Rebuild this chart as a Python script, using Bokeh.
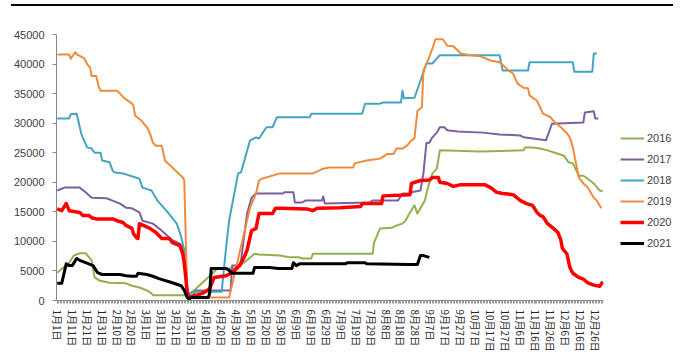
from bokeh.plotting import figure
from bokeh.models import FixedTicker, Legend, LegendItem, Div
from bokeh.layouts import column
from bokeh.embed import file_html
from bokeh.resources import INLINE

# Category axis: one slot per calendar day (leap year, 366 days); labels every 10 days
tick_days = list(range(0, 366, 10))
tick_labels = [
    "1月1日", "1月11日", "1月21日", "1月31日", "2月10日", "2月20日", "3月1日",
    "3月11日", "3月21日", "3月31日", "4月10日", "4月20日", "4月30日", "5月10日",
    "5月20日", "5月30日", "6月9日", "6月19日", "6月29日", "7月9日", "7月19日",
    "7月29日", "8月8日", "8月18日", "8月28日", "9月7日", "9月17日", "9月27日",
    "10月7日", "10月17日", "10月27日", "11月6日", "11月16日", "11月26日",
    "12月6日", "12月16日", "12月26日",
]
y_ticks = [0, 5000, 10000, 15000, 20000, 25000, 30000, 35000, 40000, 45000]

days_2016 = [0, 8, 11, 15, 19, 23, 25, 28, 35, 46, 50, 55, 60, 63, 64, 88, 104, 107, 117,
             122, 127, 132, 135, 149, 155, 162, 164, 170, 171, 211, 212, 216, 224, 227,
             231, 233, 236, 239, 241, 243, 246, 248, 251, 254, 256, 283, 312, 313, 318,
             323, 328, 334, 339, 342, 345, 349, 352, 355, 359, 363, 365]
vals_2016 = [4700, 6400, 7600, 8000, 8000, 6800, 3900, 3400, 3000, 2900, 2500, 2200, 1700,
             1200, 900, 900, 4600, 5400, 5400, 5900, 6800, 7900, 7800, 7600, 7300, 7300,
             7100, 7100, 7900, 7900, 9800, 12200, 12300, 12700, 13000, 13500, 14900,
             16100, 14700, 15600, 16900, 19100, 21500, 22300, 25400, 25200, 25400, 25900,
             25900, 25700, 25400, 24900, 24500, 23400, 23200, 21100, 21100, 20600, 19800,
             18600, 18500]

days_2017 = [0, 5, 15, 19, 23, 33, 37, 42, 46, 50, 55, 57, 64, 70, 77, 82, 84, 86, 87, 89,
             93, 116, 117, 122, 123, 127, 130, 133, 151, 152, 158, 159, 164, 166, 177,
             178, 179, 209, 211, 228, 231, 236, 237, 243, 245, 247, 249, 251, 254, 256,
             259, 261, 268, 285, 296, 310, 312, 327, 331, 352, 353, 359, 360, 362]
vals_2017 = [18600, 19100, 19100, 18300, 17400, 17300, 16900, 16400, 15700, 15600, 14900,
             13500, 13000, 11800, 10200, 9600, 9000, 6800, 2200, 300, 1700, 1700, 5900,
             5900, 6800, 14700, 17400, 18100, 18100, 18300, 18300, 16600, 16600, 16900,
             16900, 17600, 16400, 16600, 16900, 16900, 18100, 18100, 18300, 18600, 21500,
             26600, 26700, 27600, 28400, 29300, 29300, 28800, 28600, 28400, 28100, 27900,
             27600, 27100, 29900, 30100, 31800, 32000, 30800, 30800]

days_2018 = [0, 8, 9, 13, 16, 17, 20, 23, 25, 29, 30, 35, 37, 38, 44, 55, 57, 63, 67, 73,
             80, 83, 85, 87, 88, 90, 110, 113, 115, 121, 123, 129, 133, 135, 140, 144,
             147, 169, 170, 204, 206, 216, 218, 230, 231, 232, 239, 245, 247, 251, 256,
             296, 298, 315, 316, 345, 346, 358, 359, 361]
vals_2018 = [30800, 30800, 31500, 31600, 28300, 27600, 25900, 25700, 25000, 25000, 23700,
             23400, 22000, 21700, 21500, 20600, 19100, 18600, 16900, 15200, 13000, 10700,
             8500, 1200, 300, 1500, 1500, 9000, 13500, 21500, 21700, 27100, 27600, 27400,
             29300, 29300, 31000, 31000, 31600, 31600, 33300, 33300, 33500, 33500, 35500,
             34200, 34300, 38600, 40100, 40100, 41500, 41500, 38900, 38900, 40300, 40300,
             38700, 38700, 41800, 41800]

days_2019 = [0, 8, 9, 12, 14, 18, 20, 22, 23, 26, 28, 29, 40, 42, 45, 50, 51, 52, 56, 60,
             62, 64, 66, 70, 72, 77, 84, 85, 87, 115, 129, 133, 135, 137, 149, 171, 178,
             182, 198, 199, 207, 216, 221, 225, 227, 231, 234, 237, 239, 241, 244, 245,
             248, 251, 253, 258, 261, 265, 268, 270, 276, 283, 285, 290, 296, 300, 302,
             305, 308, 312, 315, 316, 321, 323, 325, 330, 333, 337, 341, 343, 345, 349,
             352, 355, 359, 361, 364]
vals_2019 = [41600, 41600, 40900, 42000, 41500, 41000, 40000, 39400, 38000, 38000, 36000,
             35500, 35500, 35000, 34200, 33300, 33000, 31300, 30500, 29300, 28300, 26700,
             26200, 26200, 23700, 22500, 20800, 20300, 500, 500, 15700, 18100, 20300,
             20600, 21500, 21500, 22300, 22500, 22500, 23200, 23700, 24000, 24800, 24800,
             25700, 25700, 26200, 27100, 27400, 32100, 32700, 38900, 40600, 42600, 44200,
             44200, 43100, 43000, 42300, 41800, 41500, 41300, 41100, 40600, 40300, 39400,
             38900, 38400, 36700, 36000, 35900, 34700, 33800, 32700, 31600, 31000, 30100,
             29300, 28300, 27600, 25900, 20800, 19800, 19100, 17400, 16900, 15600]

days_2020 = [0, 3, 6, 8, 15, 17, 21, 23, 26, 37, 40, 44, 46, 50, 51, 53, 54, 55, 62, 66,
             70, 75, 77, 82, 84, 85, 86, 87, 88, 93, 97, 102, 105, 113, 117, 122, 125,
             127, 130, 133, 135, 144, 146, 149, 167, 171, 174, 189, 203, 204, 217, 218,
             236, 237, 243, 249, 251, 255, 256, 261, 265, 270, 286, 290, 294, 298, 305,
             310, 314, 318, 321, 323, 325, 328, 332, 335, 337, 338, 341, 343, 345, 349,
             352, 355, 359, 363, 365]
vals_2020 = [15500, 15200, 16400, 15200, 14900, 14400, 14400, 14000, 13800, 13800, 13500,
             13200, 12700, 12200, 11300, 10600, 10500, 13000, 12200, 11500, 10500, 10500,
             9800, 9300, 7900, 6300, 3900, 1200, 500, 850, 1200, 2000, 3900, 4200, 4700,
             5900, 7300, 8500, 11800, 12200, 14700, 14700, 15600, 15600, 15500, 15200,
             15600, 15700, 15900, 16400, 16400, 17700, 17900, 19800, 20300, 20400, 20800,
             20800, 20000, 19800, 19300, 19600, 19600, 19100, 18300, 18100, 17900, 16900,
             16400, 16100, 14900, 14400, 14200, 13000, 12200, 11500, 10200, 8800, 7900,
             5600, 4600, 3900, 3600, 3000, 2600, 2400, 3200]

days_2021 = [0, 3, 6, 8, 10, 13, 15, 19, 24, 27, 30, 42, 46, 50, 53, 54, 60, 64, 68, 77,
             83, 85, 87, 88, 90, 101, 102, 103, 113, 115, 117, 131, 132, 142, 148, 157,
             158, 160, 162, 193, 194, 206, 207, 235, 241, 243, 245, 249]
vals_2021 = [2900, 2900, 6200, 5900, 5900, 7100, 6800, 6400, 5900, 4700, 4400, 4400, 4200,
             4100, 4100, 4600, 4400, 4100, 3700, 3000, 2500, 1700, 500, 300, 500, 500,
             1200, 5400, 5400, 5100, 4600, 4600, 5600, 5600, 5400, 5400, 6400, 5900, 6200,
             6200, 6400, 6400, 6200, 6100, 6100, 7600, 7600, 7300]

series = [
    ("2016", days_2016, vals_2016, "#8fb150", 2),
    ("2017", days_2017, vals_2017, "#7d5fa0", 2),
    ("2018", days_2018, vals_2018, "#45a5c0", 2),
    ("2019", days_2019, vals_2019, "#ee8b3e", 2),
    ("2020", days_2020, vals_2020, "#ff0000", 3.5),
    ("2021", days_2021, vals_2021, "#000000", 3),
]

p = figure(
    frame_width=547, frame_height=266,
    x_range=(-0.5, 365.5), y_range=(0, 45000),
    output_backend="svg", toolbar_location=None,
    min_border_left=56, min_border_right=0, min_border_top=28, min_border_bottom=61,
)
p.outline_line_color = None
p.background_fill_color = "white"
p.border_fill_color = "white"
p.xgrid.visible = False
p.ygrid.visible = False

items = []
for name, xs, ys, color, lw in series:
    r = p.line(xs, ys, line_color=color, line_width=lw, line_join="round")
    items.append(LegendItem(label=name, renderers=[r]))

# y axis
p.yaxis.ticker = FixedTicker(ticks=y_ticks)
p.yaxis.axis_line_color = "#868686"
p.yaxis.major_tick_line_color = "#868686"
p.yaxis.major_tick_out = 4
p.yaxis.major_tick_in = 0
p.yaxis.minor_tick_line_color = None
p.yaxis.major_label_text_font = "Liberation Sans"
p.yaxis.major_label_text_font_size = "11px"
p.yaxis.major_label_text_color = "#404040"
p.yaxis.major_label_standoff = 8

# x axis: daily tick marks, labels every 10 days
p.xaxis.ticker = FixedTicker(ticks=tick_days, minor_ticks=list(range(0, 366)))
p.xaxis.major_label_overrides = {d: lab for d, lab in zip(tick_days, tick_labels)}
p.xaxis.major_label_orientation = "vertical"
p.xaxis.axis_line_color = "#868686"
p.xaxis.major_tick_line_color = "#9a9a9a"
p.xaxis.minor_tick_line_color = "#9a9a9a"
p.xaxis.major_tick_out = 3
p.xaxis.major_tick_in = 0
p.xaxis.minor_tick_out = 3
p.xaxis.minor_tick_in = 0
p.xaxis.major_label_text_font = "Noto Sans CJK SC"
p.xaxis.major_label_text_font_size = "10px"
p.xaxis.major_label_text_color = "#262626"
p.xaxis.major_label_standoff = 6

# legend sits in the right-hand panel, beside the plot frame
legend = Legend(
    items=items, location=(17, 49), orientation="vertical",
    glyph_width=24, glyph_height=16, label_height=16, spacing=5,
    label_standoff=3, padding=0, margin=0,
    label_text_font="Liberation Sans", label_text_font_size="11px",
    label_text_color="#404040", border_line_color=None, background_fill_alpha=0,
)
p.add_layout(legend, "right")

rule = Div(text="", width=662, height=2, margin=(4, 0, 0, 11),
           styles={"background-color": "#000000"})
page = column(rule, p, spacing=0, margin=0)

open("out.html", "w").write(file_html(page, INLINE))
